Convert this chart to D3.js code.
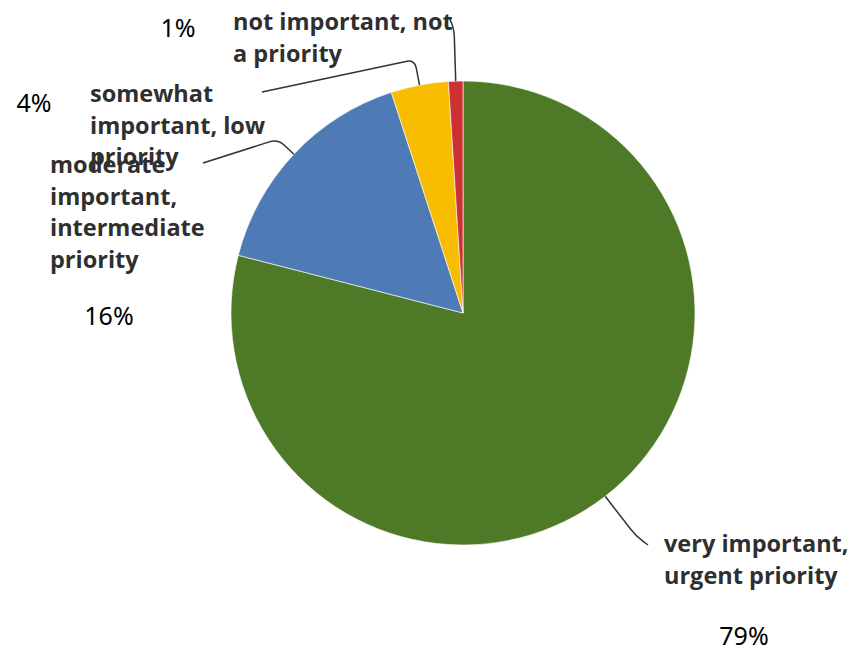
<!DOCTYPE html>
<html>
<head>
<meta charset="utf-8">
<script src="https://cdn.jsdelivr.net/npm/d3@7"></script>
<style>
  html, body { margin: 0; padding: 0; background: #fff; }
  svg { display: block; }
  .cat { font-family: "Open Sans", sans-serif; font-weight: 700; font-size: 23.5px; fill: #2f2f2f; }
  .pct { font-family: "Noto Sans", sans-serif; font-size: 25px; fill: #000; }
</style>
</head>
<body>
<svg id="chart" width="850" height="648"></svg>
<script>
// Survey responses: priority rating
const categories = [
  "very important, urgent priority",
  "moderate important, intermediate priority",
  "somewhat important, low priority",
  "not important, not a priority"
];
const values = [79, 16, 4, 1];
const pctLabels = ["79%", "16%", "4%", "1%"];
const labelLines = [
  ["very important,", "urgent priority"],
  ["moderate", "important,", "intermediate", "priority"],
  ["somewhat", "important, low", "priority"],
  ["not important, not", "a priority"]
];
const colors = ["#4e7a28", "#4e7bb5", "#f8bd00", "#cc3030"];

const width = 850, height = 648;
const cx = 463, cy = 313, radius = 232;

// Label placement: text block origin, percent position, leader elbow and end
const layout = [
  { text: [664, 552], pct: [744, 645], elbow: 50, end: [648, 545] },
  { text: [50, 173],  pct: [109, 325], elbow: 22, end: [203, 163] },
  { text: [90, 102],  pct: [34, 112],  elbow: 26, end: [262, 92] },
  { text: [233, 30],  pct: [178, 37],  elbow: 52, end: [449, 17] }
];
const lineHeight = 31.5;

const svg = d3.select("#chart");
const g = svg.append("g").attr("transform", `translate(${cx},${cy})`);

const pie = d3.pie().sort(null).value(d => d)
  .startAngle(0).endAngle(2 * Math.PI);
const arcs = pie(values);
const arc = d3.arc().innerRadius(0).outerRadius(radius);

g.selectAll("path.slice")
  .data(arcs)
  .join("path")
  .attr("class", "slice")
  .attr("d", arc)
  .attr("fill", (d, i) => colors[i])
  .attr("stroke", "#fff")
  .attr("stroke-width", 0.6);

// Leader lines from the slice rim out to each label
function polar(a, r) { return [r * Math.sin(a), -r * Math.cos(a)]; }
function leader(d, i) {
  const mid = (d.startAngle + d.endAngle) / 2;
  const p0 = polar(mid, radius);
  const p1 = polar(mid, radius + layout[i].elbow);
  const p2 = [layout[i].end[0] - cx, layout[i].end[1] - cy];
  const k = 9;
  const toward = (a, b, dist) => {
    const dx = b[0] - a[0], dy = b[1] - a[1], L = Math.hypot(dx, dy) || 1;
    const t = Math.min(dist, L / 2) / L;
    return [a[0] + dx * t, a[1] + dy * t];
  };
  const a = toward(p1, p0, k), b = toward(p1, p2, k);
  const path = d3.path();
  path.moveTo(p0[0], p0[1]);
  path.lineTo(a[0], a[1]);
  path.quadraticCurveTo(p1[0], p1[1], b[0], b[1]);
  path.lineTo(p2[0], p2[1]);
  return path.toString();
}

g.selectAll("path.leader")
  .data(arcs)
  .join("path")
  .attr("class", "leader")
  .attr("d", leader)
  .attr("fill", "none")
  .attr("stroke", "#333")
  .attr("stroke-width", 1.5);

// Category labels
svg.selectAll("text.cat")
  .data(labelLines)
  .join("text")
  .attr("class", "cat")
  .attr("x", (d, i) => layout[i].text[0])
  .attr("y", (d, i) => layout[i].text[1])
  .each(function (lines, i) {
    d3.select(this).selectAll("tspan")
      .data(lines)
      .join("tspan")
      .attr("x", layout[i].text[0])
      .attr("dy", (l, j) => j === 0 ? 0 : lineHeight)
      .text(l => l);
  });

// Percentage labels
svg.selectAll("text.pct")
  .data(pctLabels)
  .join("text")
  .attr("class", "pct")
  .attr("x", (d, i) => layout[i].pct[0])
  .attr("y", (d, i) => layout[i].pct[1])
  .attr("text-anchor", "middle")
  .text(d => d);
</script>
</body>
</html>
